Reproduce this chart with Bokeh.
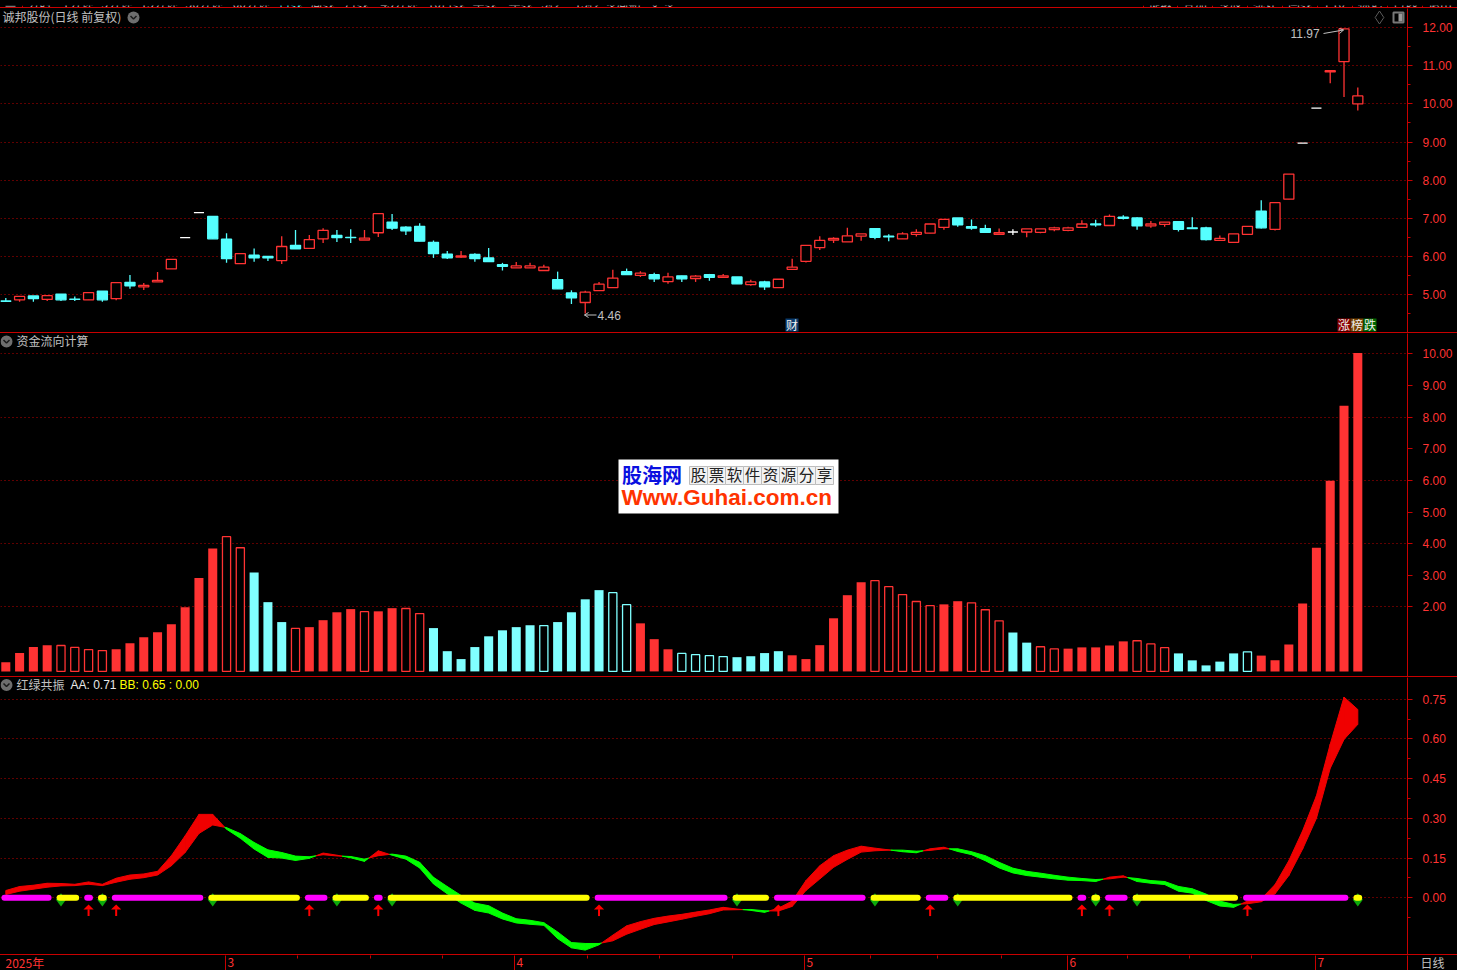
from bokeh.plotting import figure
from bokeh.layouts import column
from bokeh.models import (Range1d, LinearAxis, FixedTicker, Grid, Label, NumeralTickFormatter, Div)
from bokeh.embed import file_html
from bokeh.resources import INLINE

stock_title = "诚邦股份(日线 前复权)"
flow_title = "资金流向计算"
osc_title = "红绿共振"

open_ = [4.83,4.86,4.96,4.87,5.01,4.88,4.86,5.09,4.89,5.32,5.20,5.33,5.67,6.49,7.15,7.05,6.45,5.81,6.03,6.00,
         5.89,6.29,6.21,6.46,6.55,6.50,6.43,6.62,6.90,6.77,6.79,6.37,6.06,5.98,6.05,5.96,5.78,5.70,5.70,5.63,
         5.39,5.04,4.79,5.10,5.18,5.60,5.50,5.52,5.34,5.49,5.42,5.52,5.45,5.46,5.26,5.33,5.18,5.66,5.87,6.23,
         6.43,6.38,6.53,6.73,6.53,6.46,6.58,6.61,6.76,7.01,6.78,6.73,6.58,6.64,6.64,6.63,6.70,6.68,6.76,6.85,
         6.81,7.03,7.01,6.80,6.84,6.91,6.75,6.75,6.42,6.37,6.58,7.19,6.71,7.50,8.97,9.89,10.84,11.11,10.00]
high = [4.91,4.95,4.96,4.97,5.01,4.95,5.05,5.09,5.31,5.51,5.30,5.59,5.92,6.49,7.15,7.05,6.61,6.07,6.21,6.00,
        6.53,6.69,6.56,6.74,6.69,6.71,6.69,7.12,7.11,6.79,6.87,6.42,6.14,6.14,6.08,6.22,5.83,5.85,5.83,5.78,
        5.60,5.11,5.10,5.33,5.65,5.68,5.61,5.57,5.57,5.49,5.51,5.54,5.54,5.46,5.39,5.36,5.40,5.94,6.29,6.53,
        6.50,6.75,6.59,6.73,6.58,6.63,6.71,6.85,6.97,7.01,6.97,6.83,6.73,6.71,6.72,6.72,6.78,6.78,6.95,6.96,
        7.10,7.08,7.03,6.93,6.90,6.91,7.03,6.78,6.55,6.59,6.79,7.47,7.41,8.16,8.97,9.89,10.87,11.97,10.43]
low = [4.81,4.81,4.81,4.83,4.83,4.83,4.86,4.81,4.85,5.15,5.12,5.33,5.67,6.49,7.15,6.46,5.83,5.81,5.86,5.88,
       5.80,6.20,6.21,6.35,6.38,6.35,6.43,6.51,6.69,6.56,6.40,5.96,5.93,5.96,5.86,5.86,5.63,5.70,5.70,5.63,
       5.15,4.75,4.50,5.10,5.18,5.52,5.46,5.33,5.28,5.33,5.33,5.36,5.45,5.28,5.23,5.12,5.18,5.66,5.84,6.17,
       6.35,6.38,6.41,6.45,6.40,6.46,6.52,6.61,6.70,6.78,6.70,6.63,6.58,6.56,6.50,6.61,6.66,6.66,6.76,6.78,
       6.81,6.97,6.70,6.75,6.78,6.65,6.73,6.42,6.42,6.35,6.58,6.73,6.68,7.50,8.97,9.89,10.54,10.18,9.83]
close = [4.82,4.95,4.89,4.97,4.86,4.87,5.05,4.86,5.31,5.23,5.24,5.37,5.92,6.49,7.15,6.46,5.94,6.07,5.96,5.96,
         6.26,6.20,6.44,6.68,6.49,6.49,6.48,7.12,6.74,6.67,6.40,6.07,5.96,6.01,5.94,5.86,5.74,5.75,5.75,5.72,
         5.15,4.91,5.06,5.27,5.43,5.52,5.56,5.41,5.46,5.41,5.48,5.45,5.49,5.28,5.33,5.20,5.40,5.72,6.29,6.42,
         6.47,6.54,6.59,6.50,6.51,6.59,6.63,6.85,6.97,6.83,6.74,6.63,6.62,6.64,6.72,6.72,6.75,6.75,6.85,6.83,
         7.05,7.00,6.80,6.85,6.90,6.71,6.73,6.44,6.47,6.59,6.79,6.75,7.41,8.16,8.97,9.89,10.87,11.97,10.21]

flow = [0.25,0.54,0.73,0.79,0.78,0.72,0.65,0.62,0.66,0.85,1.04,1.20,1.45,1.99,2.91,3.85,4.22,3.87,3.09,2.15,
        1.52,1.32,1.36,1.58,1.83,1.93,1.85,1.86,1.96,1.95,1.79,1.33,0.60,0.35,0.73,1.07,1.26,1.36,1.42,1.41,
        1.52,1.83,2.24,2.53,2.45,2.07,1.48,0.98,0.66,0.53,0.49,0.46,0.43,0.41,0.44,0.54,0.60,0.47,0.35,0.79,
        1.64,2.37,2.78,2.83,2.64,2.39,2.17,2.04,2.08,2.18,2.13,1.91,1.56,1.19,0.87,0.74,0.67,0.68,0.72,0.72,
        0.78,0.91,0.93,0.83,0.71,0.53,0.31,0.15,0.27,0.53,0.58,0.46,0.31,0.81,2.11,3.87,5.99,8.36,10.03]
# bar colours, bar by bar: R red, C cyan
flow_side = ("R"*18 + "C"*3 + "R"*10 + "C"*15 + "R"*3 + "C"*8 + "R"*16 + "C"*2 + "R"*10 + "C"*6 + "R"*8)
flow_hollow = [4,5,6,7,16,17,21,26,29,30,39,44,45,49,50,51,52,63,64,65,66,67,70,71,72,75,76,82,83,84,90]

aa = [.0275,.0425,.0475,.055,.054,.051,.06,.051,.074,.086,.09,.10,.159,.234,.315,.315,.259,.225,.184,.1525,
      .15,.141,.149,.169,.161,.151,.1375,.1775,.161,.146,.1125,.0525,.015,-.02,-.0475,-.0575,-.08,-.095,-.10,-.104,
      -.154,-.189,-.1975,-.1775,-.141,-.106,-.09,-.0775,-.069,-.0625,-.054,-.046,-.036,-.0425,-.0475,-.055,-.039,-.0125,.065,.121,
      .159,.18,.195,.1875,.181,.174,.17,.185,.191,.175,.163,.14,.113,.094,.084,.078,.0715,.0665,.065,.0615,
      .078,.083,.0615,.055,.05,.025,.0175,-.01,-.031,-.036,-.0125,-.004,.05,.14,.253,.385,.58,.758,.711]
bb = [.0125,.025,.0325,.04,.045,.046,.051,.046,.059,.07,.076,.086,.121,.171,.243,.275,.265,.2425,.209,.181,
      .171,.1575,.155,.1625,.158,.156,.146,.159,.165,.1575,.134,.0775,.0425,.009,-.02,-.03,-.0575,-.079,-.085,-.094,
      -.129,-.169,-.1725,-.1725,-.1625,-.1375,-.119,-.101,-.091,-.081,-.07,-.06,-.046,-.045,-.044,-.049,-.05,-.0325,.0275,.071,
      .115,.145,.1725,.1775,.18,.18,.176,.179,.185,.185,.174,.159,.134,.112,.10,.093,.085,.078,.073,.069,
      .0715,.078,.073,.065,.0615,.043,.034,.014,-.0125,-.025,-.0225,-.015,.015,.084,.184,.30,.489,.598,.655]

magenta_runs = [(0,3),(6,6),(8,14),(22,23),(27,27),(43,52),(56,62),(67,68),(78,78),(80,81),(90,97)]
yellow_runs = [(4,5),(7,7),(15,21),(24,26),(28,42),(53,55),(63,66),(69,77),(79,79),(82,89),(98,98)]
buy_arrows = [6,8,22,27,43,56,67,78,80,90]
sell_marks = [4,7,15,24,28,53,63,69,79,82,98]

price_ticks = [5,6,7,8,9,10,11,12]
price_minor = [4.5,5.5,6.5,7.5,8.5,9.5,10.5,11.5]
flow_ticks = [2,3,4,5,6,7,8,9,10]
flow_grid = [2,4,6,8,10]
osc_ticks = [0,.15,.30,.45,.60,.75]
osc_minor = [-.075,.075,.225,.375,.525,.675]
month_labels = ["2025年","3","4","5","6","7"]
month_ticks = [15.93,36.87,57.9,76.96,94.9]
week_ticks = [21.14,26.43,31.65,42.16,47.4,52.7,62.7,67.54,72.2,81.3,85.8,90.3]
menu_left = ["分时","1分钟","5分钟","15分钟","30分钟","60分钟","日线","周线","月线","45分钟","10日线","季线","年线","5秒","15秒","多周期","更多"]
menu_right = ["提取","叠加","多股","统计","画线","F10","标记","自选","退出"]

RED, CYAN, BARCYAN = "#ff3333", "#55ffff", "#80ffff"
LINE, DOT, GRAY = "#c80000", "#c00000", "#c0c0c0"
CJK, LAT = "Noto Sans CJK SC", "Liberation Sans"

# pixel geometry of the frames
X0, DX = 5.3, 13.796
def bx(px): return (px - X0) / DX
xr = (bx(0), bx(1407))
xfull = (bx(0), bx(1457))

def yscale(v1, px1, v2, px2):
    k = (v2 - v1) / (px2 - px1)
    return lambda px: v1 + (px - px1) * k

def make(h, y0, y1, x=xr, right=50):
    p = figure(width=1457, height=h, x_range=Range1d(*x), y_range=Range1d(y0, y1),
               output_backend="svg", toolbar_location=None, background_fill_color="black",
               border_fill_color="black", outline_line_color=None,
               min_border_left=0, min_border_right=right, min_border_top=0, min_border_bottom=0,
               x_axis_location=None, y_axis_location=None, frame_align=False)
    p.grid.visible = False
    return p

def strip():
    # a one-pixel rule across the whole window, between two panes
    return Div(text="", width=1457, height=1, margin=0, styles={"background-color": LINE, "overflow": "hidden"})

def right_axis(p, ticks, minor):
    ax = LinearAxis(ticker=FixedTicker(ticks=ticks, minor_ticks=minor))
    ax.formatter = NumeralTickFormatter(format="0.00")
    ax.axis_line_color = LINE
    ax.major_tick_line_color = LINE
    ax.minor_tick_line_color = LINE
    ax.major_tick_in = 0
    ax.major_tick_out = 5
    ax.minor_tick_in = 0
    ax.minor_tick_out = 3
    ax.major_label_standoff = 10
    ax.major_label_text_color = RED
    ax.major_label_text_font = LAT
    ax.major_label_text_font_size = "12px"
    p.add_layout(ax, "right")
    return ax

def grid(p, ax, ticks):
    p.add_layout(Grid(dimension=1, axis=ax, ticker=FixedTicker(ticks=ticks), grid_line_color=DOT,
                      grid_line_dash="1 3", grid_line_width=1, level="underlay"))

def lab(p, top, xpx, ypx, text, color=GRAY, size="12px", font=CJK, align="left", style="normal"):
    # xpx, ypx: window pixels; top: where this figure's canvas starts in the window
    p.add_layout(Label(x=xpx, y=ypx - top - 0.8, x_units="canvas", y_units="canvas", text=text, text_color=color,
                       text_font_size=size, text_font=font, text_align=align, text_baseline="middle",
                       text_font_style=style))

def icon(p, cx, cy, ys):
    p.scatter([bx(cx)], [ys(cy)], marker="circle", size=12, fill_color="#6e6e6e", line_color=None)
    p.line([bx(cx - 3), bx(cx), bx(cx + 3)], [ys(cy - 1.5), ys(cy + 1.5), ys(cy - 1.5)], line_color="#1a1a1a", line_width=1.5)

# ---------------------------------------------------------------- menu strip, cut by the top of the window
ph = make(7, 7, 0, x=xfull, right=0)
for x, t in zip([27,62,101,140,185,232,278,310,344,380,427,472,508,541,574,604,650], menu_left):
    lab(ph, 0, x, -2.4, t, color=(CYAN if t == "日线" else GRAY))
seps = [1143,1177,1212,1247,1282,1317,1352,1387,1422]
for i, t in enumerate(menu_right):
    right_edge = seps[i + 1] if i + 1 < len(seps) else 1457
    lab(ph, 0, (seps[i] + right_edge) / 2, -2.4, t, align="center")
sx = [bx(s) for s in [22] + seps]
ph.segment(sx, [0] * len(sx), sx, [7] * len(sx), line_color=LINE, line_width=1)
ph.quad(left=[bx(5)], right=[bx(15)], top=[0], bottom=[2], fill_color="#777777", line_color=None)

# ---------------------------------------------------------------- price pane
ys1 = yscale(12.0, 27.2, 5.0, 294.0)
p1 = make(324, ys1(332), ys1(8))
ax1 = right_axis(p1, price_ticks, price_minor)
grid(p1, ax1, price_ticks)
idx = list(range(len(close)))
colors = [RED if c > o else (CYAN if c < o else "#ffffff") for o, c in zip(open_, close)]
p1.segment(idx, low, idx, high, line_color=colors, line_width=1.3)
p1.vbar(x=idx, width=0.73, top=[max(o, c) for o, c in zip(open_, close)], bottom=[min(o, c) for o, c in zip(open_, close)],
        fill_color=["#000000" if c == RED else c for c in colors], line_color=colors, line_width=1.3)
lab(p1, 8, 2, 17, stock_title)
icon(p1, 133, 17, ys1)
p1.scatter([bx(1379)], [ys1(17)], marker="diamond", size=13, fill_color=None, line_color="#5a5a5a")
p1.rect([bx(1398)], [ys1(17)], width=10 / DX, height=ys1(0) - ys1(10), fill_color=None, line_color="#777777", line_width=2)
p1.rect([bx(1400)], [ys1(17)], width=4 / DX, height=ys1(0) - ys1(8), fill_color="#999999", line_color=None)
# high / low notes
lab(p1, 8, 1290, 33.5, "11.97", font=LAT)
p1.line([bx(1323), bx(1343)], [ys1(33), ys1(29.5)], line_color=GRAY)
p1.line([bx(1339), bx(1343), bx(1339)], [ys1(28), ys1(29.5), ys1(33)], line_color=GRAY)
lab(p1, 8, 597, 315.5, "4.46", font=LAT)
p1.line([bx(584), bx(596)], [ys1(314.5), ys1(314.5)], line_color=GRAY)
p1.line([bx(588), bx(584), bx(588)], [ys1(312), ys1(314.5), ys1(317)], line_color=GRAY)
# badges
for l, r, col, ch in [(785, 798, "#0b3c6e", "财"), (1337, 1350, "#8a0000", "涨"), (1350, 1363, "#7a4400", "榜"), (1363, 1376, "#006600", "跌")]:
    p1.quad(left=[bx(l)], right=[bx(r)], top=[ys1(318)], bottom=[ys1(331)], fill_color=col, line_color=None)
    lab(p1, 8, (l + r) / 2, 324.5, ch, color="#f0f0f0", align="center")

# ---------------------------------------------------------------- flow pane
ys2 = yscale(10.0, 353.4, 2.0, 606.4)
p2 = make(343, ys2(676), ys2(333))
ax2 = right_axis(p2, flow_ticks, [])
grid(p2, ax2, flow_grid)
fc = [RED if f == "R" else BARCYAN for f in flow_side]
base = -0.04
solid = [i for i in idx if i not in flow_hollow]
p2.vbar(x=solid, width=0.655, top=[flow[i] for i in solid], bottom=base, fill_color=[fc[i] for i in solid], line_color=None)
p2.vbar(x=flow_hollow, width=0.59, top=[flow[i] for i in flow_hollow], bottom=base, fill_color="#000000",
        line_color=[fc[i] for i in flow_hollow], line_width=1.3)
icon(p2, 6, 341, ys2)
lab(p2, 333, 16, 341, flow_title)
# watermark
p2.quad(left=[bx(618)], right=[bx(838)], top=[ys2(459)], bottom=[ys2(513)], fill_color="#ffffff", line_color=None)
p2.quad(left=[bx(689 + 18 * k) for k in range(8)], right=[bx(707 + 18 * k) for k in range(8)], top=[ys2(466)] * 8, bottom=[ys2(484)] * 8,
        fill_color="#f2f2f2", line_color="#bdbdbd")
lab(p2, 333, 621.5, 474.5, "股海网", color="#0a10e0", size="20px", style="bold")
for k, ch in enumerate("股票软件资源分享"):
    lab(p2, 333, 698 + 18 * k, 474.5, ch, color="#222222", size="15.5px", align="center")
lab(p2, 333, 621, 497.5, "Www.Guhai.com.cn", color="#ff3300", size="22.5px", font=LAT, style="bold")

# ---------------------------------------------------------------- oscillator pane
ys3 = yscale(0.75, 698.7, 0.0, 897.3)
p3 = make(277, ys3(954), ys3(677))
ax3 = right_axis(p3, osc_ticks, osc_minor)
grid(p3, ax3, osc_ticks)

qx, qy, qc = [], [], []
def band_col(a, b): return "#f00000" if a >= b else "#00ff00"
for i in range(len(aa) - 1):
    d0, d1 = aa[i] - bb[i], aa[i + 1] - bb[i + 1]
    if d0 * d1 < 0:
        t = d0 / (d0 - d1)
        xc, yc = i + t, aa[i] + (aa[i + 1] - aa[i]) * t
        qx += [[i, xc, i], [xc, i + 1, i + 1]]
        qy += [[aa[i], yc, bb[i]], [yc, aa[i + 1], bb[i + 1]]]
        qc += [band_col(aa[i], bb[i]), band_col(aa[i + 1], bb[i + 1])]
    else:
        qx.append([i, i + 1, i + 1, i])
        qy.append([aa[i], aa[i + 1], bb[i + 1], bb[i]])
        qc.append(band_col(aa[i + 1], bb[i + 1]))
p3.patches(qx, qy, fill_color=qc, line_color=qc, line_width=1)

p3.patches([[i - .36, i, i + .36, i] for i in sell_marks], [[-.0075, .0175, -.0075, -.033] for i in sell_marks],
           fill_color="#0caa0c", line_color=None)

for runs, col in [(magenta_runs, "#ff00ff"), (yellow_runs, "#ffff00")]:
    p3.segment([a - .1 for a, b in runs], [0] * len(runs), [b + .1 for a, b in runs], [0] * len(runs),
               line_color=col, line_width=6, line_cap="round")

p3.segment(buy_arrows, [-.043] * len(buy_arrows), buy_arrows, [-.069] * len(buy_arrows), line_color="#ff0000", line_width=2)
p3.patches([[i - .37, i, i + .37] for i in buy_arrows], [[-.044, -.0253, -.044] for i in buy_arrows], fill_color="#ff0000", line_color=None)

icon(p3, 6, 684.5, ys3)
lab(p3, 677, 16, 684.5, osc_title)
lab(p3, 677, 70, 685, "AA: 0.71", color="#e8e8e8", font=LAT)
lab(p3, 677, 119, 685, "BB: 0.65 : 0.00", color="#ffff00", font=LAT)

# ---------------------------------------------------------------- date strip
pf = make(15, 15, 0, x=xfull, right=0)
xa = LinearAxis(ticker=FixedTicker(ticks=month_ticks + [bx(1407)], minor_ticks=week_ticks))
xa.axis_line_color = None
xa.major_tick_line_color = LINE
xa.minor_tick_line_color = LINE
xa.major_tick_out = 0
xa.major_tick_in = 15
xa.minor_tick_out = 0
xa.minor_tick_in = 3
xa.major_label_overrides = {t: "" for t in month_ticks + [bx(1407)]}
xa.major_label_text_font_size = "1px"
xa.major_label_standoff = 0
pf.add_layout(xa, "above")
for px, t in zip([5, 227, 516, 806, 1069, 1317], month_labels):
    lab(pf, 955, px, 962.5, t, color=RED)
lab(pf, 955, 1432, 962.5, "日线", align="center")

page = column(ph, strip(), p1, strip(), p2, strip(), p3, strip(), pf, spacing=0, styles={"background-color": "black"})
open("out.html", "w").write(file_html(page, INLINE))
